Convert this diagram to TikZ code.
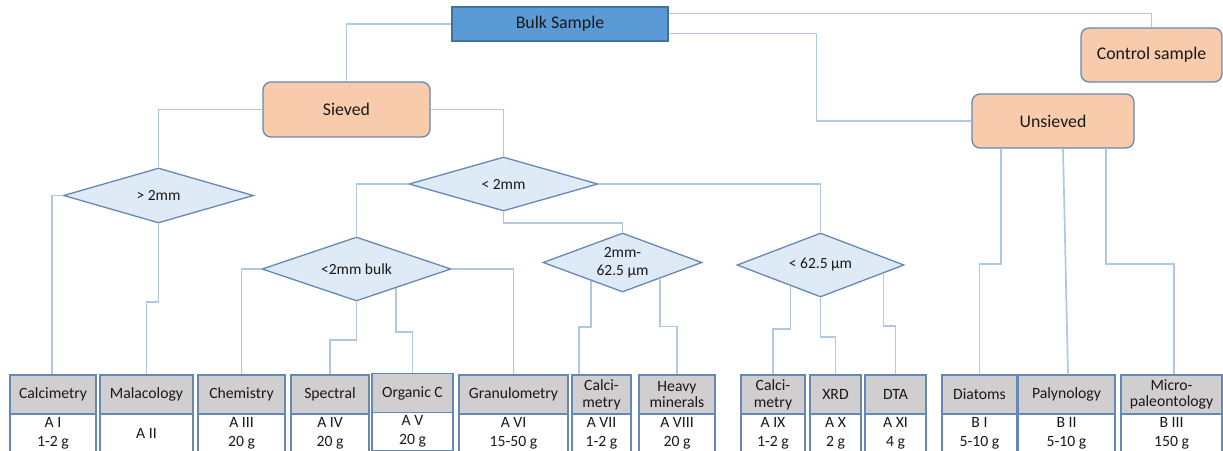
\documentclass[tikz,border=0pt]{standalone}
\usepackage{fontspec}
\setmainfont{Carlito}
\usetikzlibrary{shapes.geometric,calc}
\definecolor{lineblue}{RGB}{175,200,229}
\definecolor{bord}{RGB}{102,136,180}
\definecolor{peach}{RGB}{248,203,173}
\definecolor{diafill}{RGB}{222,235,247}
\definecolor{hgray}{RGB}{208,206,206}
\definecolor{bulkfill}{RGB}{91,155,213}
\definecolor{bulkbord}{RGB}{65,113,156}
\definecolor{txt}{RGB}{25,25,25}
\newcommand\mybigfont{\fontsize{17.8}{20}\selectfont}
\newcommand\mydiafont{\fontsize{15.5}{18}\selectfont}
\newcommand\myhfont{\fontsize{15.7}{16.8}\selectfont}
\newcommand\mylfont{\fontsize{15.7}{19}\selectfont}
\begin{document}
\begin{tikzpicture}[x=1pt,y=-1pt,
  conn/.style={draw=lineblue, line width=1.7pt},
  bulkbox/.style={draw=bulkbord, fill=bulkfill, line width=1.2pt, inner sep=0pt, font=\mybigfont, text=txt},
  peachbox/.style={draw=bord, fill=peach, line width=1.3pt, rounded corners=8pt, inner sep=0pt, font=\mybigfont, text=txt},
  dia/.style={diamond, shape aspect=2.8, draw=bord, fill=diafill, line width=1.3pt, inner sep=0pt, font=\mydiafont, text=txt, align=center},
  hdr/.style={draw=bord, fill=hgray, line width=1.3pt, minimum height=39pt, inner sep=0pt, align=center, font=\myhfont, text=txt},
  low/.style={draw=bord, fill=white, line width=1.3pt, minimum height=38pt, inner sep=0pt, align=center, font=\mylfont, text=txt}]
\useasboundingbox (0,0) rectangle (1223,450);
\clip (0,0) rectangle (1223,450);

% main boxes
\node[bulkbox, minimum width=216pt, minimum height=34pt] (bulkS) at (560,24) {Bulk Sample};
\node[peachbox, minimum width=167pt, minimum height=55pt] (sieved) at (346.5,109.5) {Sieved};
\node[peachbox, minimum width=141pt, minimum height=54pt] (control) at (1151.5,55) {Control sample};
\node[peachbox, minimum width=162pt, minimum height=54pt] (unsieved) at (1053,121) {Unsieved};

% diamonds
\node[dia, minimum width=190pt, minimum height=55pt] (gt) at (158.5,195.5) {> 2mm};
\node[dia, minimum width=189pt, minimum height=54pt] (lt) at (503.5,184) {< 2mm};
\node[dia, minimum width=189pt, minimum height=64pt] (bulk) at (356.5,269) {<2mm bulk};
\node[dia, minimum width=159pt, minimum height=59pt] (mid) at (622.5,262.5) {2mm-\\62.5 µm};
\node[dia, minimum width=167pt, minimum height=64pt] (fine) at (820.5,265) {< 62.5 µm};

% bottom boxes
\node[hdr, minimum width=86pt] (h1) at (53,394.5) {Calcimetry};
\node[low, minimum width=86pt] (l1) at (53,433) {A I\\1-2 g};
\node[hdr, minimum width=93pt] (h2) at (146.5,394.5) {Malacology};
\node[low, minimum width=93pt] (l2) at (146.5,433) {A II};
\node[hdr, minimum width=87pt] (h3) at (241.5,394.5) {Chemistry};
\node[low, minimum width=87pt] (l3) at (241.5,433) {A III\\20 g};
\node[hdr, minimum width=78pt] (h4) at (330,394.5) {Spectral};
\node[low, minimum width=78pt] (l4) at (330,433) {A IV\\20 g};
\node[hdr, minimum width=81pt] (h5) at (412.5,393) {Organic C};
\node[low, minimum width=81pt] (l5) at (412.5,431.5) {A V\\20 g};
\node[hdr, minimum width=109pt] (h6) at (513.5,394.5) {Granulometry};
\node[low, minimum width=109pt] (l6) at (513.5,433) {A VI\\15-50 g};
\node[hdr, minimum width=59pt] (h7) at (601.5,394.5) {Calci-\\metry};
\node[low, minimum width=59pt] (l7) at (601.5,433) {A VII\\1-2 g};
\node[hdr, minimum width=76pt] (h8) at (677,394.5) {Heavy\\minerals};
\node[low, minimum width=76pt] (l8) at (677,433) {A VIII\\20 g};
\node[hdr, minimum width=64pt] (h9) at (773,394.5) {Calci-\\metry};
\node[low, minimum width=64pt] (l9) at (773,433) {A IX\\1-2 g};
\node[hdr, minimum width=51pt] (h10) at (835.5,394.5) {XRD};
\node[low, minimum width=51pt] (l10) at (835.5,433) {A X\\2 g};
\node[hdr, minimum width=61pt] (h11) at (895.5,394.5) {DTA};
\node[low, minimum width=61pt] (l11) at (895.5,433) {A XI\\4 g};
\node[hdr, minimum width=75pt] (h12) at (979.5,394.5) {Diatoms};
\node[low, minimum width=75pt] (l12) at (979.5,433) {B I\\5-10 g};
\node[hdr, minimum width=97pt] (h13) at (1066.5,394.5) {Palynology};
\node[low, minimum width=97pt] (l13) at (1066.5,433) {B II\\5-10 g};
\node[hdr, minimum width=101pt] (h14) at (1171.5,394.5) {Micro-\\paleontology};
\node[low, minimum width=101pt] (l14) at (1171.5,433) {B III\\150 g};

% connectors
\draw[conn] (bulkS.west) -| (sieved.north);
\draw[conn] ($(bulkS.north east)+(0,7)$) -| (control.north);
\draw[conn] ($(bulkS.south east)+(0,-8)$) -| ($(unsieved.west)+(-155,0)$) -- (unsieved.west);
\draw[conn] (sieved.west) -| (gt.north);
\draw[conn] (sieved.east) -| (lt.north);
\draw[conn] (gt.west) -| (52,0 |- h1.north);
\draw[conn] (gt.south) -- ++(0,78) -| (h2.north);
\draw[conn] (lt.west) -| (bulk.north);
\draw[conn] (lt.east) -| (fine.north);
\draw[conn] (lt.south) -- ++(0,11) -| (mid.north);
\draw[conn] (bulk.west) -| (h3.north);
\draw[conn] (bulk.south) -- ++(0,38) -| (h4.north);
\draw[conn] ($(bulk.south)!0.415!(bulk.east)$) -- ++(0,44) -| (h5.north);
\draw[conn] (bulk.east) -| (h6.north);
\draw[conn] ($(mid.west)!0.61!(mid.south)$) -- ++(0,46) -| (579,0 |- h7.north);
\draw[conn] ($(mid.south)!0.47!(mid.east)$) -- ++(0,48) -| (h8.north);
\draw[conn] ($(fine.west)!0.643!(fine.south)$) -- ++(0,43) -| (h9.north);
\draw[conn] (fine.south) -- ++(0,39) -| (h10.north);
\draw[conn] ($(fine.south)!0.747!(fine.east)$) -- ++(0,53) -| (h11.north);
\draw[conn] (1001,0 |- unsieved.south) -- ++(0,115) -| (h12.north);
\draw[conn] (1063,0 |- unsieved.south) -- (1068,0 |- h13.north);
\draw[conn] (1106,0 |- unsieved.south) -- ++(0,115) -| (1174,0 |- h14.north);
\end{tikzpicture}
\end{document}
